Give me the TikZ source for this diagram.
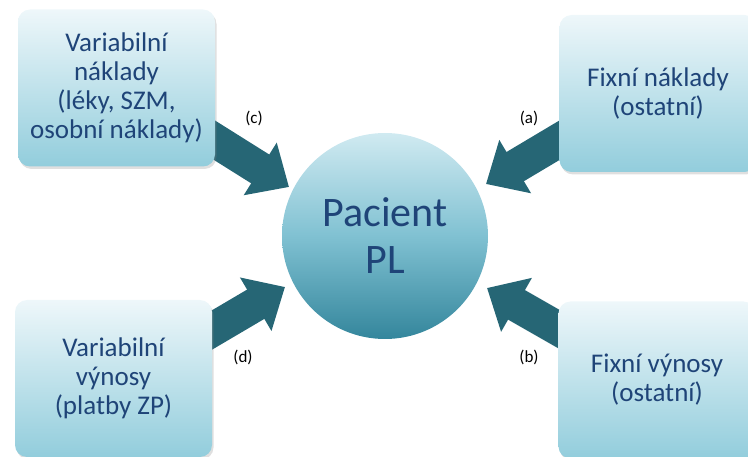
\documentclass[tikz,border=0pt]{standalone}
\usepackage{fontspec}
\setmainfont{Carlito}
\usetikzlibrary{shadows,backgrounds,arrows.meta}
\definecolor{txtblue}{RGB}{31,68,120}
\definecolor{boxtop}{RGB}{238,247,250}
\definecolor{boxbot}{RGB}{146,205,220}
\definecolor{circtop}{RGB}{208,234,241}
\definecolor{circmid}{RGB}{128,193,210}
\definecolor{circbot}{RGB}{52,134,156}
\definecolor{arrowteal}{RGB}{38,102,117}
\tikzset{
  costbox/.style={rectangle, rounded corners=12pt, minimum width=197pt,
    minimum height=157pt, top color=boxtop, bottom color=boxbot,
    drop shadow={opacity=0.25, shadow xshift=1.5pt, shadow yshift=-2.5pt},
    text=txtblue, align=center, font=\fontsize{27}{29}\selectfont},
  centrecircle/.style={circle, minimum size=206pt, inner sep=0pt,
    top color=circtop, bottom color=circbot, middle color=circmid,
    text=txtblue, align=center, font=\fontsize{42}{47}\selectfont},
  flowarrow/.style={arrowteal, line width=34pt,
    -{Triangle[length=34pt,width=60pt]}},
  arrowlabel/.style={font=\fontsize{17}{20}\selectfont, text=black}
}
\begin{document}
\begin{tikzpicture}[x=1pt,y=-1pt]
\clip (0,0) rectangle (748,457);

% boxes and centre
\node[costbox] (vn) at (116.5,88) {Variabilní\\náklady\\(léky, SZM,\\osobní náklady)};
\node[costbox] (fn) at (658,93.5) {Fixní náklady\\(ostatní)};
\node[costbox] (vv) at (113.5,378.5) {Variabilní\\výnosy\\(platby ZP)};
\node[costbox] (fv) at (657,380) {Fixní výnosy\\(ostatní)};
\node[centrecircle] (P) at (385,236) {Pacient\\PL};

% arrow tails (inside boxes) and tips (at the circle)
\coordinate (c0) at (195,128);
\coordinate (c1) at (289,187);
\coordinate (a0) at (580,128);
\coordinate (a1) at (486,184);
\coordinate (d0) at (195,340);
\coordinate (d1) at (285,287);
\coordinate (b0) at (578,340);
\coordinate (b1) at (487,288);

\begin{scope}[on background layer]
  \draw[flowarrow] (c0) -- (c1);
  \draw[flowarrow] (a0) -- (a1);
  \draw[flowarrow] (d0) -- (d1);
  \draw[flowarrow] (b0) -- (b1);
\end{scope}

% labels
\node[arrowlabel] (lc) at (254,118) {(c)};
\node[arrowlabel] (la) at (529,118) {(a)};
\node[arrowlabel] (ld) at (243,357) {(d)};
\node[arrowlabel] (lb) at (529,357) {(b)};
\end{tikzpicture}
\end{document}
